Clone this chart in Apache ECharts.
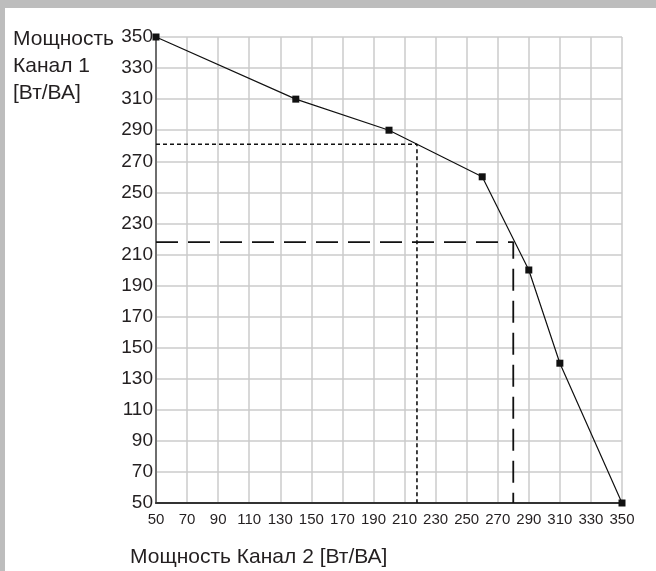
<!DOCTYPE html>
<html>
<head>
<meta charset="utf-8">
<script src="https://cdn.jsdelivr.net/npm/echarts@6/dist/echarts.min.js"></script>
<style>
    html, body { margin: 0; padding: 0; background: #bdbdbd; }
    #chart {
        position: absolute; left: 5px; top: 8px;
        width: 651px; height: 563px; background: #fff;
    }
</style>
</head>
<body>
<div id="chart"></div>
<script>
/* ===== данные графика ===== */
const xTicks = [50, 70, 90, 110, 130, 150, 170, 190, 210, 230, 250, 270, 290, 310, 330, 350];
const yTicks = [50, 70, 90, 110, 130, 150, 170, 190, 210, 230, 250, 270, 290, 310, 330, 350];

// Мощность Канал 2 / Мощность Канал 1
const ch2 = [50, 140, 200, 260, 290, 310, 350];
const ch1 = [350, 310, 290, 260, 200, 140, 50];

// пример 1 (короткий пунктир) и пример 2 (длинный пунктир)
const ex1 = { ch2: 218, ch1: 281 };
const ex2 = { ch2: 280, ch1: 218 };

const yTitle = "Мощность\nКанал 1\n[Вт/ВА]";
const xTitle = "Мощность Канал 2 [Вт/ВА]";

const FONT = "'Liberation Sans', Arial, sans-serif";
const TXT = "#231f20";

const chart = echarts.init(document.getElementById("chart"));

function guide(p) {
    return [[xTicks[0], p.ch1], [p.ch2, p.ch1], [p.ch2, yTicks[0]]];
}

chart.setOption({
    animation: false,
    grid: {
        left: 151, top: 29, right: 34, bottom: 68,
        containLabel: false, outerBoundsMode: "none"
    },
    // подпись оси Y — три строки слева сверху
    graphic: [{
        type: "text", left: 8, top: 18, silent: true,
        style: {
            text: yTitle, fill: TXT, font: "21px " + FONT,
            lineHeight: 27, align: "left", verticalAlign: "top"
        }
    }],
    xAxis: {
        type: "value",
        min: xTicks[0], max: xTicks[xTicks.length - 1], interval: 20,
        axisLine: { show: true, onZero: false, lineStyle: { color: "#333", width: 2 } },
        axisTick: { show: false },
        splitLine: { show: true, lineStyle: { color: "#cbcbcb", width: 1.5 } },
        axisLabel: { color: TXT, fontFamily: FONT, fontSize: 15, margin: 9 },
        name: xTitle,
        nameLocation: "start",
        nameTextStyle: {
            color: TXT, fontFamily: FONT, fontSize: 21,
            align: "left", verticalAlign: "top",
            padding: [44, 0, 0, -26]
        },
        nameGap: 0
    },
    yAxis: {
        type: "value",
        min: yTicks[0], max: yTicks[yTicks.length - 1], interval: 20,
        axisLine: { show: true, onZero: false, lineStyle: { color: "#6e6e6e", width: 2 } },
        axisTick: { show: false },
        splitLine: { show: true, lineStyle: { color: "#cbcbcb", width: 1.5 } },
        axisLabel: { color: TXT, fontFamily: FONT, fontSize: 19, margin: 3 }
    },
    series: [
        {
            type: "line", data: guide(ex1), symbol: "none", silent: true,
            lineStyle: { color: "#111", width: 1.6, type: [4, 3] }
        },
        {
            type: "line", data: guide(ex2), symbol: "none", silent: true,
            lineStyle: { color: "#111", width: 1.8, type: [22, 10] }
        },
        {
            type: "line",
            data: ch2.map((x, i) => [x, ch1[i]]),
            symbol: "rect", symbolSize: 7,
            itemStyle: { color: "#111" },
            lineStyle: { color: "#111", width: 1.2 }
        }
    ]
});
</script>
</body>
</html>
